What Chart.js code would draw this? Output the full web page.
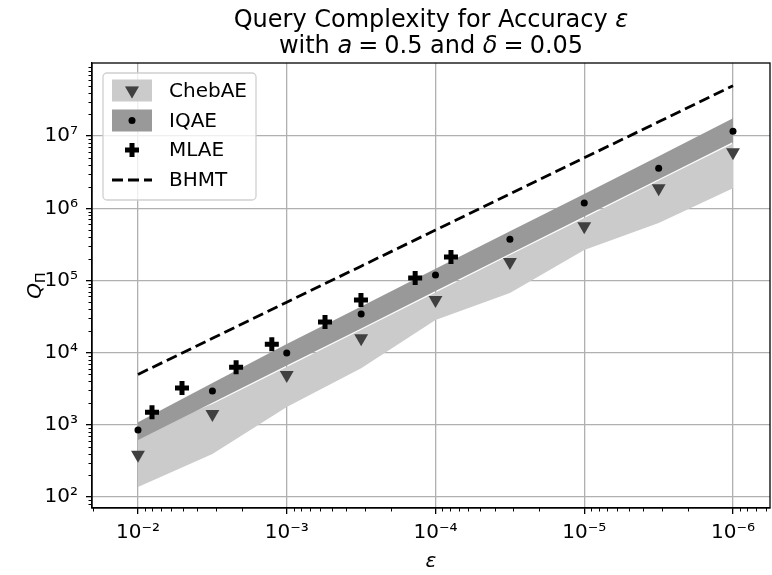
<!DOCTYPE html>
<html>
<head>
<meta charset="utf-8">
<script src="https://cdn.jsdelivr.net/npm/chart.js@4.4.0/dist/chart.umd.min.js"></script>
<style>
  html, body { margin: 0; padding: 0; background: #fff; overflow: hidden; }
  canvas { display: block; }
</style>
</head>
<body>
<canvas id="myChart" width="772" height="575"></canvas>
<script>
// accuracy grid (epsilon) shared by ChebAE, IQAE and BHMT
const epsGrid = [1e-2, 3.16e-3, 1e-3, 3.16e-4, 1e-4, 3.16e-5, 1e-5, 3.16e-6, 1e-6];

const chebPoints = [385, 1410, 4900, 15900, 53600, 180000, 566000, 1.9e6, 6.0e6];
const chebLow = [138, 394, 1770, 6100, 28300, 67000, 264000, 624000, 1.9e6];
const chebHigh = [750, 1940, 6350, 20800, 68400, 225000, 736000, 2.42e6, 7.93e6];

const iqaePoints = [847, 2940, 9870, 34300, 119000, 374000, 1.18e6, 3.6e6, 1.17e7];
const iqaeLow = [615, 2020, 6620, 21700, 71300, 234000, 767000, 2.52e6, 8.26e6];
const iqaeHigh = [1090, 3800, 13200, 43600, 145000, 479000, 1.58e6, 5.25e6, 1.77e7];

const mlaeEps = [8.05e-3, 5.06e-3, 2.19e-3, 1.26e-3, 5.53e-4, 3.17e-4, 1.37e-4, 7.87e-5];
const mlaePoints = [1500, 3240, 6290, 13100, 26500, 53600, 108000, 211000];

const bhmtPoints = [5000, 15800, 50000, 158000, 500000, 1.58e6, 5e6, 1.58e7, 5e7];

const xTicks = [1e-2, 1e-3, 1e-4, 1e-5, 1e-6];
const yTicks = [1e2, 1e3, 1e4, 1e5, 1e6, 1e7];

const LIGHT = '#cbcbcb';
const DARK = '#999999';
const TRI = '#404040';
const FONT = "'DejaVu Sans'";

const pts = (xs, ys) => ys.map((y, i) => ({ x: xs[i], y: y }));

const SUP = { '-': '\u207B', '0': '\u2070', '1': '\u00B9', '2': '\u00B2', '3': '\u00B3',
  '4': '\u2074', '5': '\u2075', '6': '\u2076', '7': '\u2077', '8': '\u2078', '9': '\u2079' };
function pow10Label(v) {
  const e = String(Math.round(Math.log10(v)));
  return '10' + e.split('').map(c => SUP[c]).join('');
}

function drawRich(ctx, segs, cx, y) {
  let total = 0;
  segs.forEach(s => { ctx.font = s.f; s.w = ctx.measureText(s.t).width; total += s.w; });
  let x = cx - total / 2;
  segs.forEach(s => { ctx.font = s.f; ctx.fillText(s.t, x, y); x += s.w; });
}

const decor = {
  id: 'decor',
  afterDraw(chart) {
    const ctx = chart.ctx;
    const a = chart.chartArea;
    const xs = chart.scales.x, ys = chart.scales.y;
    ctx.save();

    // minor ticks
    ctx.strokeStyle = '#000';
    ctx.lineWidth = 1;
    ctx.beginPath();
    for (let d = -7; d <= -1; d++) {
      for (let k = 2; k <= 9; k++) {
        const v = k * Math.pow(10, d);
        if (v < xs.min || v > xs.max) continue;
        const px = Math.round(xs.getPixelForValue(v)) + 0.5;
        ctx.moveTo(px, a.bottom); ctx.lineTo(px, a.bottom + 3.5);
      }
    }
    for (let d = 1; d <= 8; d++) {
      for (let k = 2; k <= 9; k++) {
        const v = k * Math.pow(10, d);
        if (v < ys.min || v > ys.max) continue;
        const py = Math.round(ys.getPixelForValue(v)) + 0.5;
        ctx.moveTo(a.left, py); ctx.lineTo(a.left - 3.5, py);
      }
    }
    ctx.stroke();

    // frame
    ctx.lineWidth = 1.3;
    ctx.strokeRect(a.left, a.top, a.right - a.left, a.bottom - a.top);

    // title
    ctx.fillStyle = '#000';
    ctx.textBaseline = 'alphabetic';
    const cx = (a.left + a.right) / 2;
    const up = '24px ' + FONT, it = 'italic 24px ' + FONT;
    const eq = '\u2005=\u2005';
    drawRich(ctx, [{ t: 'Query Complexity for Accuracy ', f: up }, { t: '\u03B5', f: it }], cx, 27);
    drawRich(ctx, [{ t: 'with ', f: up }, { t: 'a', f: it }, { t: eq + '0.5 and ', f: up },
      { t: '\u03B4', f: it }, { t: eq + '0.05', f: up }], cx, 53);

    // x title
    drawRich(ctx, [{ t: '\u03B5', f: 'italic 20px ' + FONT }], cx, 567);

    // y title
    ctx.save();
    ctx.translate(41, (a.top + a.bottom) / 2);
    ctx.rotate(-Math.PI / 2);
    ctx.font = 'italic 20px ' + FONT;
    const qw = ctx.measureText('Q').width;
    ctx.font = '14px ' + FONT;
    const pw = ctx.measureText('\u03A0').width;
    let x0 = -(qw + pw) / 2;
    ctx.font = 'italic 20px ' + FONT;
    ctx.fillText('Q', x0, 0);
    ctx.font = '14px ' + FONT;
    ctx.fillText('\u03A0', x0 + qw, 4);
    ctx.restore();

    // legend
    const L = 103, T = 73, R = 256, B = 200;
    ctx.beginPath();
    ctx.roundRect(L, T, R - L, B - T, 4);
    ctx.fillStyle = 'rgba(255,255,255,0.8)';
    ctx.fill();
    ctx.strokeStyle = '#d0d0d0';
    ctx.lineWidth = 1.3;
    ctx.stroke();

    const rows = [90.5, 120.5, 150, 180];
    const mx = 132;
    ctx.fillStyle = LIGHT; ctx.fillRect(112, rows[0] - 11, 40, 22);
    ctx.fillStyle = DARK; ctx.fillRect(112, rows[1] - 11, 40, 22);
    Chart.helpers.drawPoint(ctx, { pointStyle: 'triangle', rotation: 180, radius: 8, borderWidth: 0 }, mx, rows[0]);
    ctx.fillStyle = TRI; ctx.fill();
    ctx.fillStyle = '#000';
    ctx.beginPath(); ctx.arc(mx, rows[1], 3.5, 0, Math.PI * 2); ctx.fill();
    ctx.strokeStyle = '#000'; ctx.lineWidth = 5;
    ctx.beginPath();
    ctx.moveTo(mx - 7, rows[2]); ctx.lineTo(mx + 7, rows[2]);
    ctx.moveTo(mx, rows[2] - 7); ctx.lineTo(mx, rows[2] + 7);
    ctx.stroke();
    ctx.lineWidth = 2.8; ctx.setLineDash([11, 5]);
    ctx.beginPath(); ctx.moveTo(112, rows[3]); ctx.lineTo(152, rows[3]); ctx.stroke();
    ctx.setLineDash([]);

    ctx.fillStyle = '#000';
    ctx.font = '20px ' + FONT;
    ctx.textBaseline = 'middle';
    ['ChebAE', 'IQAE', 'MLAE', 'BHMT'].forEach((t, i) => ctx.fillText(t, 169, rows[i] + 1));
    ctx.restore();
  }
};

const myChart = new Chart(document.getElementById('myChart'), {
  type: 'line',
  data: {
    datasets: [
      { label: 'BHMT', data: pts(epsGrid, bhmtPoints), borderColor: '#000', borderWidth: 2.8,
        borderDash: [11, 5], pointRadius: 0, fill: false, order: 0 },
      { label: 'MLAE', data: pts(mlaeEps, mlaePoints), showLine: false, pointStyle: 'cross',
        pointRadius: 7, pointBorderWidth: 5, pointBorderColor: '#000', order: 1 },
      { label: 'IQAE', data: pts(epsGrid, iqaePoints), showLine: false, pointStyle: 'circle',
        pointRadius: 3.5, pointBorderWidth: 0, pointBackgroundColor: '#000', order: 2 },
      { label: 'ChebAE', data: pts(epsGrid, chebPoints), showLine: false, pointStyle: 'triangle',
        pointRotation: 180, pointRadius: 8, pointBorderWidth: 0, pointBackgroundColor: TRI, order: 3 },
      { label: 'IQAE high', data: pts(epsGrid, iqaeHigh), fill: 5, backgroundColor: DARK,
        borderWidth: 0, pointRadius: 0, order: 4 },
      { label: 'IQAE low', data: pts(epsGrid, iqaeLow), fill: false, borderWidth: 0, pointRadius: 0, order: 5 },
      { label: 'ChebAE high', data: pts(epsGrid, chebHigh), fill: 7, backgroundColor: LIGHT,
        borderWidth: 0, pointRadius: 0, order: 6 },
      { label: 'ChebAE low', data: pts(epsGrid, chebLow), fill: false, borderWidth: 0, pointRadius: 0, order: 7 }
    ]
  },
  options: {
    responsive: false,
    animation: false,
    events: [],
    layout: { autoPadding: false, padding: { top: 63, right: 2, left: 0, bottom: 0 } },
    plugins: { legend: { display: false }, title: { display: false }, tooltip: { enabled: false } },
    scales: {
      x: {
        type: 'logarithmic', reverse: true, min: 5.64e-7, max: 0.02038,
        afterBuildTicks: s => { s.ticks = xTicks.map(v => ({ value: v })); },
        afterFit: s => { s.height = 67; s.paddingLeft = 0; s.paddingRight = 0; },
        ticks: { callback: v => pow10Label(v), font: { family: FONT, size: 20 }, color: '#000',
          padding: 7, maxRotation: 0, autoSkip: false },
        grid: { color: '#b0b0b0', lineWidth: 1.3, tickColor: '#000', tickLength: 6, tickWidth: 1.3 },
        border: { color: '#000', width: 1.3 }
      },
      y: {
        type: 'logarithmic', min: 70.5, max: 1.03e8,
        afterBuildTicks: s => { s.ticks = yTicks.map(v => ({ value: v })); },
        afterFit: s => { s.width = 92; s.paddingTop = 0; s.paddingBottom = 0; },
        ticks: { callback: v => pow10Label(v), font: { family: FONT, size: 20 }, color: '#000',
          padding: 8, autoSkip: false },
        grid: { color: '#b0b0b0', lineWidth: 1.3, tickColor: '#000', tickLength: 6, tickWidth: 1.3 },
        border: { color: '#000', width: 1.3 }
      }
    }
  },
  plugins: [decor]
});
</script>
</body>
</html>
